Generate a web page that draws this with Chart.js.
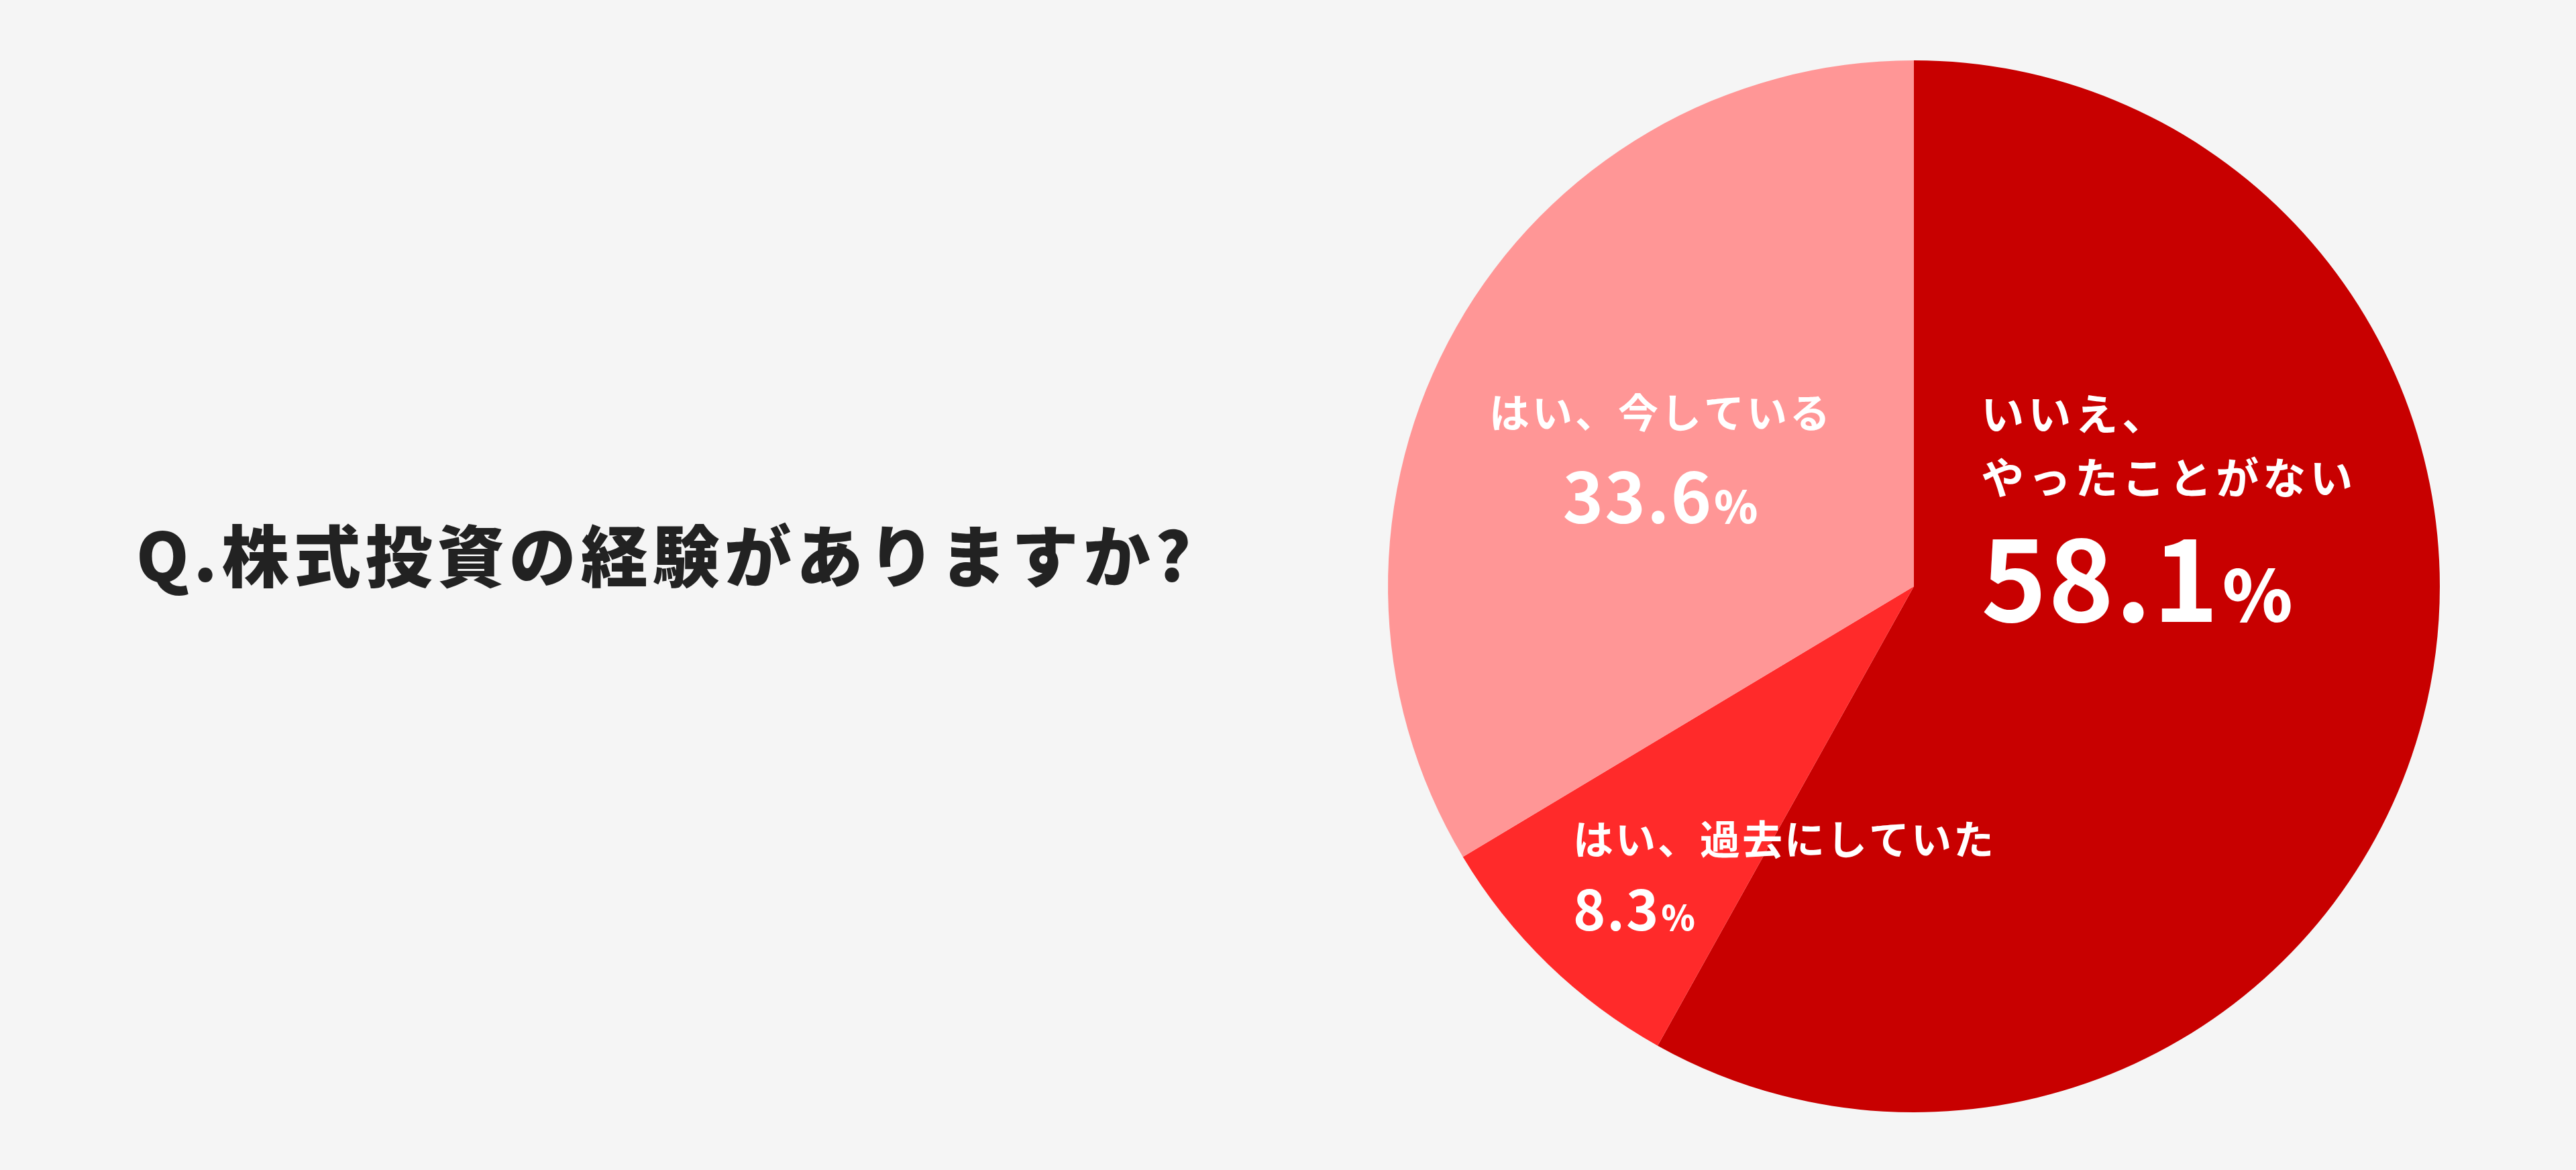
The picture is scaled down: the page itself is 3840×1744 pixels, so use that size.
<!DOCTYPE html>
<html lang="ja">
<head>
<meta charset="utf-8">
<title>株式投資の経験</title>
<script src="https://cdn.jsdelivr.net/npm/chart.js@4.4.1/dist/chart.umd.min.js"></script>
<style>
  html, body { margin: 0; padding: 0; background: #f5f5f5; }
  #wrap { position: relative; width: 3840px; height: 1744px; overflow: hidden; }
  #title {
    position: absolute; left: 203px; top: 774px; margin: 0;
    font-family: "Noto Sans CJK JP", sans-serif; font-weight: 900;
    font-size: 100px; line-height: 100px; letter-spacing: 7px;
    color: #222222; white-space: nowrap;
  }
  #chartBox { position: absolute; left: 0; top: 0; width: 3840px; height: 1744px; }
</style>
</head>
<body>
<div id="wrap">
  <h1 id="title">Q.株式投資の経験がありますか?</h1>
  <div id="chartBox"><canvas id="pie"></canvas></div>
</div>
<script>
// ─── DATA ───────────────────────────────────────────────────────────────
var categories = ['いいえ、\nやったことがない', 'はい、過去にしていた', 'はい、今している'];
var shares = [58.1, 8.3, 33.6];
var sliceColors = ['#c80000', '#ff2a2a', '#ff9696'];

// label placement, as fractions of the pie radius from its centre
var labelLayout = [
  { align: 'left',   fx: 0.128,  lines: [-0.297, -0.176], numY: 0.068, textSize: 64, numSize: 166, pctSize: 106, gap: 4, spacing: 6 },
  { align: 'left',   fx: -0.648, lines: [0.510],          numY: 0.654, textSize: 60, numSize: 82,  pctSize: 51,  gap: 2, spacing: 3 },
  { align: 'center', fx: -0.481, lines: [-0.301],         numY: -0.120, textSize: 60, numSize: 103, pctSize: 66, gap: 2, spacing: 4 }
];

var FONT = '"Noto Sans CJK JP", sans-serif';

var sliceLabels = {
  id: 'sliceLabels',
  afterDatasetsDraw: function (chart) {
    var ctx = chart.ctx;
    var arcs = chart.getDatasetMeta(0).data;
    ctx.save();
    ctx.fillStyle = '#ffffff';
    ctx.textBaseline = 'alphabetic';
    arcs.forEach(function (arc, i) {
      var L = labelLayout[i];
      var r = arc.outerRadius;
      var ax = arc.x + L.fx * r;
      var textLines = categories[i].split('\n');

      ctx.font = '700 ' + L.textSize + 'px ' + FONT;
      ctx.letterSpacing = L.spacing + 'px';
      ctx.textAlign = L.align;
      textLines.forEach(function (t, k) {
        ctx.fillText(t, ax, arc.y + L.lines[k] * r);
      });

      // number + smaller percent sign
      var num = shares[i].toFixed(1);
      ctx.letterSpacing = '2px';
      ctx.font = '700 ' + L.numSize + 'px ' + FONT;
      var wNum = ctx.measureText(num).width;
      ctx.font = '900 ' + L.pctSize + 'px ' + FONT;
      var wPct = ctx.measureText('%').width;
      var total = wNum + L.gap + wPct;
      var x0 = L.align === 'center' ? ax - total / 2 : ax;
      var by = arc.y + L.numY * r;
      ctx.textAlign = 'left';
      ctx.font = '700 ' + L.numSize + 'px ' + FONT;
      ctx.fillText(num, x0, by);
      ctx.font = '900 ' + L.pctSize + 'px ' + FONT;
      ctx.fillText('%', x0 + wNum + L.gap, by);
    });
    ctx.restore();
  }
};

new Chart(document.getElementById('pie').getContext('2d'), {
  type: 'pie',
  data: {
    labels: categories,
    datasets: [{
      data: shares,
      backgroundColor: sliceColors,
      borderWidth: 0
    }]
  },
  options: {
    responsive: true,
    maintainAspectRatio: false,
    animation: false,
    events: [],
    layout: { padding: { left: 2069, right: 203, top: 90, bottom: 86 } },
    plugins: { legend: { display: false }, tooltip: { enabled: false } }
  },
  plugins: [sliceLabels]
});
</script>
</body>
</html>
